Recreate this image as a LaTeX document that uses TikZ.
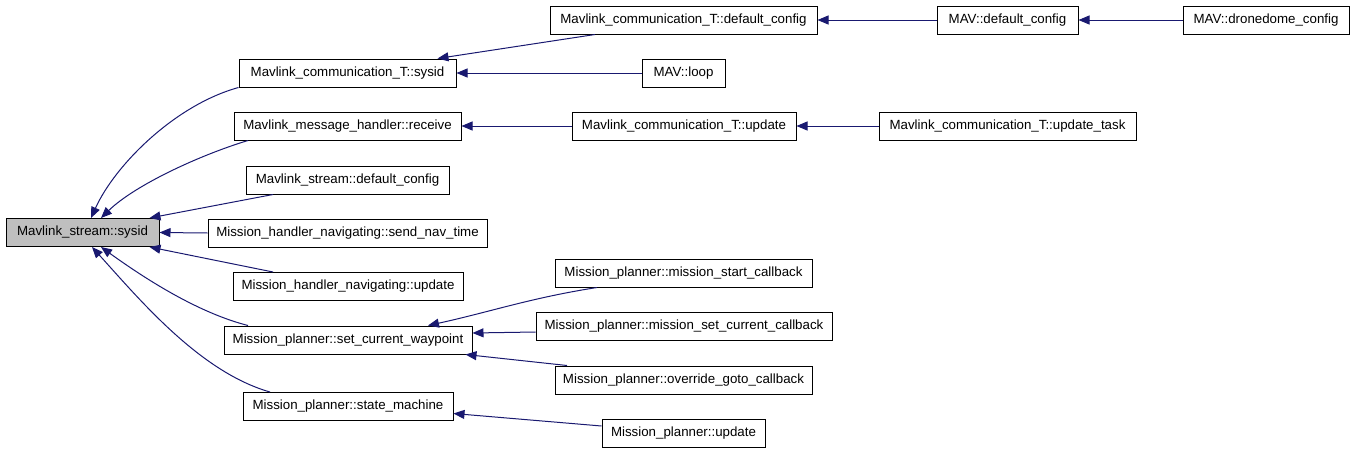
\documentclass[tikz,border=0pt]{standalone}
\usepackage{fontspec}
\setmainfont{Liberation Sans}
\usetikzlibrary{arrows.meta}
\definecolor{edgecol}{HTML}{191970}
\definecolor{rootfill}{HTML}{BFBFBF}
\begin{document}
\begin{tikzpicture}[x=1pt,y=-1pt,
  box/.style={draw=black,line width=1pt,minimum height=28pt,inner sep=0pt,
    font=\fontsize{13.3}{16}\selectfont,fill=white},
  edge/.style={draw=edgecol,line width=1pt,-{Triangle[length=11pt,width=9pt]}}]
\useasboundingbox (0,0) rectangle (1355,453);
\node[box,fill=rootfill,minimum width=153pt] (A) at (82.5,232.5) {Mavlink\_stream::sysid};
\node[box,minimum width=217pt] (B) at (347.5,73) {Mavlink\_communication\_T::sysid};
\node[box,minimum width=227pt] (C) at (347.5,126) {Mavlink\_message\_handler::receive};
\node[box,minimum width=203pt] (D) at (347.5,180) {Mavlink\_stream::default\_config};
\node[box,minimum width=279pt] (E) at (347.5,233) {Mission\_handler\_navigating::send\_nav\_time};
\node[box,minimum width=230pt] (F) at (348,286.5) {Mission\_handler\_navigating::update};
\node[box,minimum width=248pt] (G) at (348,340) {Mission\_planner::set\_current\_waypoint};
\node[box,minimum width=210pt] (H) at (348,406.5) {Mission\_planner::state\_machine};
\node[box,minimum width=267pt] (I) at (683.5,20) {Mavlink\_communication\_T::default\_config};
\node[box,minimum width=83pt] (J) at (683.5,73) {MAV::loop};
\node[box,minimum width=224pt] (K) at (684,126) {Mavlink\_communication\_T::update};
\node[box,minimum width=141pt] (L) at (1007.5,20) {MAV::default\_config};
\node[box,minimum width=166pt] (M) at (1266,20) {MAV::dronedome\_config};
\node[box,minimum width=257pt] (N) at (1007.5,126) {Mavlink\_communication\_T::update\_task};
\node[box,minimum width=257pt] (O) at (683.5,273) {Mission\_planner::mission\_start\_callback};
\node[box,minimum width=296pt] (P) at (684,326) {Mission\_planner::mission\_set\_current\_callback};
\node[box,minimum width=257pt] (Q) at (683.5,380) {Mission\_planner::override\_goto\_callback};
\node[box,minimum width=163pt] (R) at (683.5,433) {Mission\_planner::update};
% edges into A
\draw[edge] (B.south west) .. controls (175,105) and (115,165) .. ([xshift=8.5pt]A.north);
\draw[edge] ([xshift=-99.5pt]C.south) .. controls (200,155) and (135,185) .. ([xshift=18.5pt]A.north);
\draw[edge] ([xshift=-74.5pt]D.south) -- ([xshift=-10pt]A.north east);
\draw[edge] (E.west) -- (A.east);
\draw[edge] ([xshift=-75pt]F.north) -- ([xshift=-10pt]A.south east);
\draw[edge] ([xshift=-100pt]G.north) .. controls (195,312) and (140,275) .. ([xshift=18.5pt]A.south);
\draw[edge] ([xshift=-78pt]H.north) .. controls (200,372) and (140,300) .. ([xshift=9.5pt]A.south);
% second level
\draw[edge] ([xshift=-88.5pt]I.south) -- ([xshift=-19pt]B.north east);
\draw[edge] (J.west) -- (B.east);
\draw[edge] (K.west) -- (C.east);
\draw[edge] (L.west) -- (I.east);
\draw[edge] (M.west) -- (L.east);
\draw[edge] (N.west) -- (K.east);
\draw[edge] ([xshift=-86.5pt]O.south) .. controls (530,298) and (490,312) .. ([xshift=80pt]G.north);
\draw[edge] ([yshift=-6pt]P.west) -- ([yshift=7pt]G.east);
\draw[edge] ([xshift=-116.5pt]Q.north) -- ([xshift=-7pt]G.south east);
\draw[edge] ([yshift=7pt]R.west) -- ([yshift=-7pt]H.east);
\end{tikzpicture}
\end{document}
